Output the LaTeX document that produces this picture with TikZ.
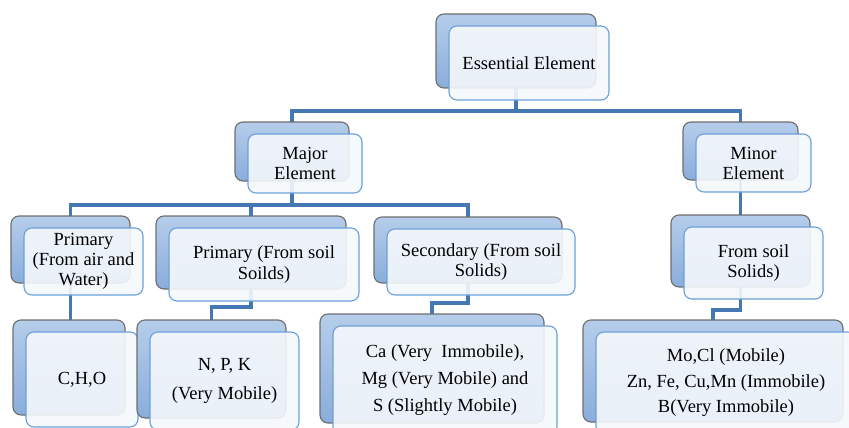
\documentclass[tikz,border=0pt]{standalone}
\usepackage{fontspec}
\setmainfont{Liberation Serif}
\usetikzlibrary{backgrounds}
\definecolor{connC}{HTML}{4578B2}
\definecolor{backTop}{HTML}{B5CDEA}
\definecolor{backBot}{HTML}{8AADDB}
\definecolor{backEdge}{HTML}{6E6E6E}
\definecolor{frontEdge}{HTML}{6BA0DA}
\definecolor{frontFill}{HTML}{F5F8FC}
\tikzset{
  backbox/.style={rectangle, rounded corners=8pt, draw=backEdge, line width=1.1pt,
    top color=backTop, bottom color=backBot, inner sep=0pt, outer sep=0pt},
  frontbox/.style={rectangle, rounded corners=8pt, draw=frontEdge, line width=1.1pt,
    fill=frontFill, fill opacity=0.9, text opacity=1, inner sep=0pt, outer sep=0pt,
    align=center, font=\fontsize{18.5}{20}\selectfont},
  conn/.style={draw=connC, line width=3.2pt},
  ls21/.style={font=\fontsize{18.5}{21}\selectfont},
  ls25/.style={font=\fontsize{18.5}{25.5}\selectfont},
  ls27/.style={font=\fontsize{18.5}{27}\selectfont},
  ls29/.style={font=\fontsize{18.5}{29}\selectfont},
}
\newcommand{\elem}[7][]{%
  \node[backbox, minimum width={#5pt-#3pt}, minimum height={#6pt-#4pt}] (#2B)
     at ({(#3+#5)/2},{(#4+#6)/2}) {};
  \node[frontbox, #1, minimum width={#5pt-#3pt}, minimum height={#6pt-#4pt}] (#2F)
     at ({(#3+#5)/2+13},{(#4+#6)/2+12}) {#7};
}
\begin{document}
\begin{tikzpicture}[x=1pt,y=-1pt]
\useasboundingbox (0,0) rectangle (849,428);
\elem{root}{436}{14}{596}{88}{Essential Element}
\elem{maj}{235}{122}{349}{181}{Major\\Element}
\elem{min}{683}{122}{798}{180}{Minor\\Element}
\elem{pa}{11}{216}{130}{283}{Primary\\(From air and\\Water)}
\elem[ls21]{ps}{156}{216}{346}{289}{Primary (From soil\\Soilds)}
\elem{sec}{374}{217}{562}{283}{Secondary (From soil\\Solids)}
\elem{fs}{671}{215}{810}{287}{From soil\\Solids)}
\elem{cho}{13}{320}{125}{415}{C,H,O}
\elem[ls29]{npk}{137}{320}{286}{418}{N, P, K\\(Very Mobile)}
\elem[ls27]{ca}{320}{314}{544}{423}{Ca (Very~ Immobile),\\Mg (Very Mobile) and\\S (Slightly Mobile)}
\elem[ls25]{mo}{583}{320}{843}{422}{Mo,Cl (Mobile)\\Zn, Fe, Cu,Mn (Immobile)\\B(Very Immobile)}
\begin{scope}[on background layer]
  \draw[conn] (rootB.center) |- ([yshift=11pt]majB.north) -- (majB.north);
  \draw[conn] (rootB.center) |- ([yshift=11pt]minB.north) -- (minB.north);
  \draw[conn] (majB.center) |- ([yshift=11pt]paB.north) -- (paB.north);
  \draw[conn] (majB.center) |- ([yshift=11pt]psB.north) -- (psB.north);
  \draw[conn] (majB.center) |- ([yshift=12pt]secB.north) -- (secB.north);
  \draw[conn] (minB.center) -- (fsB.north);
  \draw[conn] (paB.center) -- (paB.center |- choB.north);
  \draw[conn] (psB.center) |- ([yshift=13pt]npkB.north) -- (npkB.north);
  \draw[conn] (secB.center) |- ([yshift=11pt]caB.north) -- (caB.north);
  \draw[conn] (fsB.center) |- ([yshift=10pt]moB.north) -- (moB.north);
\end{scope}
\end{tikzpicture}
\end{document}
